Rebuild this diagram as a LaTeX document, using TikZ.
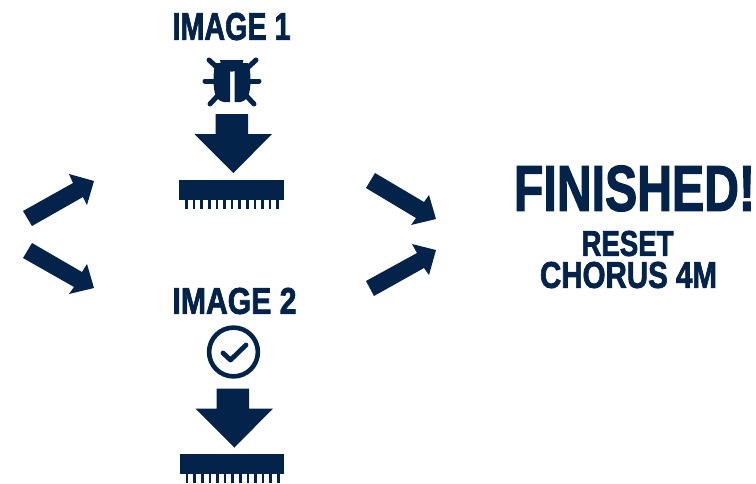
\documentclass[tikz,border=0pt]{standalone}
\usepackage{graphicx}
\usepackage{fontspec}
\setmainfont{Liberation Sans}[BoldFeatures={FakeBold=2.2}]
\definecolor{navy}{HTML}{03234B}
\newcommand{\fit}[3]{\resizebox{#1pt}{#2pt}{\bfseries #3}}
\tikzset{
  label/.style={inner sep=0pt,outer sep=0pt,text=navy},
  limb/.style={draw=navy,line width=5pt,line cap=round},
  pin/.style={draw=navy,line width=2.6pt},
}
\newcommand{\dlarrow}[2]{%
  \fill[navy] (#2-18,#1) -- (#2+14.5,#1) -- (#2+14.5,#1+20) -- (#2+38.5,#1+20) -- (#2,#1+59) -- (#2-39,#1+20) -- (#2-18,#1+20) -- cycle;}
\newcommand{\chip}[2]{%
  \fill[navy] (#1,#2) rectangle (#1+104.5,#2+20);
  \foreach \k in {0,...,12} {\draw[pin] (#1+7.5+\k*7.6,#2+19) -- (#1+7.5+\k*7.6,#2+29);}}
\begin{document}
\begin{tikzpicture}[x=1pt,y=-1pt]
\useasboundingbox (0,0) rectangle (756,483);
% labels
\node[label] (img1) at (231.5,26.5) {\fit{118}{27}{IMAGE 1}};
\node[label] (img2) at (234.5,301) {\fit{124}{26}{IMAGE 2}};
\node[label] (fin) at (634.5,188.5) {\fit{241}{45}{FINISHED!}};
\node[label] (reset) at (627.5,243.5) {\fit{92}{25}{RESET}};
\node[label] (chorus) at (628.5,275) {\fit{177}{26}{CHORUS 4M}};
% bug
\fill[navy] (220,60) arc[start angle=180,end angle=0,radius=11.7] -- cycle;
\fill[navy] (230,63) -- (230,102) -- (224,102) .. controls (216,101) and (213.5,93) .. (213.5,80) .. controls (213.5,71) and (214.5,66) .. (216,63) -- cycle;
\fill[navy] (234.5,63) -- (234.5,102) -- (240,102) .. controls (248,101) and (250.5,93) .. (250.5,80) .. controls (250.5,71) and (249.5,66) .. (248,63) -- cycle;
\fill[navy] (228,63) rectangle (236.5,69);
\draw[limb] (209,60) -- (222,72);
\draw[limb] (256,60) -- (243,72);
\draw[limb] (205,81) -- (220,81);
\draw[limb] (259,81) -- (244,81);
\draw[limb] (210,104) -- (223,90);
\draw[limb] (254,104) -- (241,90);
% first download
\dlarrow{114}{233.5}
\chip{179}{180}
% check
\draw[navy,line width=4.6pt] (233.5,352) circle[radius=24.4];
\draw[navy,line width=4.8pt,line cap=round,line join=round] (223,353) -- (230.5,360) -- (246,345);
% second download
\dlarrow{388.5}{234.5}
\chip{179.5}{454}
% flow arrows
\fill[navy] (23,211) -- (32,226) -- (83,197) -- (87,205) -- (94,181) -- (69,174) -- (73,183) -- cycle;
\fill[navy] (32,243) -- (23,258) -- (74,287) -- (69,294) -- (94,288) -- (87,264) -- (82,272) -- cycle;
\fill[navy] (375,173) -- (366,188) -- (416,218) -- (411,225) -- (436,219) -- (429,195) -- (424,202) -- cycle;
\fill[navy] (366,281) -- (374,296) -- (424,268) -- (429,275) -- (436,250) -- (412,244) -- (417,253) -- cycle;
\end{tikzpicture}
\end{document}
